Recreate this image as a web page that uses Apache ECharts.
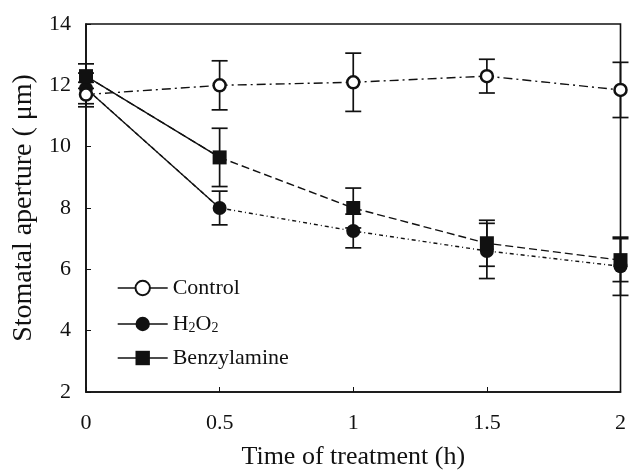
<!DOCTYPE html>
<html>
<head>
<meta charset="utf-8">
<script src="https://cdn.jsdelivr.net/npm/echarts@6/dist/echarts.min.js"></script>
<style>
html,body{margin:0;padding:0;background:#fff;}
#c{width:629px;height:475px;}
</style>
</head>
<body>
<div id="c"></div>
<script>
var times = [0, 0.5, 1, 1.5, 2];
var control = [11.7, 12.0, 12.1, 12.3, 11.85];
var controlErr = [0.4, 0.8, 0.95, 0.55, 0.9];
var h2o2 = [11.9, 8.0, 7.25, 6.6, 6.1];
var h2o2Err = [0.5, 0.55, 0.55, 0.9, 0.95];
var benzyl = [12.3, 9.65, 8.0, 6.85, 6.3];
var benzylErr = [0.4, 0.95, 0.65, 0.75, 0.7];
var xTicks = [0, 0.5, 1, 1.5, 2];
var yTicks = [2, 4, 6, 8, 10, 12, 14];

var FONT = '"Liberation Serif", "DejaVu Serif", serif';

function pts(vals) { return times.map(function (t, i) { return [t, vals[i]]; }); }
function errData(vals, errs) { return times.map(function (t, i) { return [t, vals[i] - errs[i], vals[i] + errs[i]]; }); }

function errSeries(vals, errs) {
  return {
    type: 'custom',
    z: 1,
    silent: true,
    data: errData(vals, errs),
    renderItem: function (params, api) {
      var x = api.value(0);
      var lo = api.coord([x, api.value(1)]);
      var hi = api.coord([x, api.value(2)]);
      var hw = 8;
      var st = { stroke: '#111', lineWidth: 1.7 };
      return {
        type: 'group',
        children: [
          { type: 'line', shape: { x1: lo[0], y1: lo[1], x2: hi[0], y2: hi[1] }, style: st },
          { type: 'line', shape: { x1: lo[0] - hw, y1: lo[1], x2: lo[0] + hw, y2: lo[1] }, style: st },
          { type: 'line', shape: { x1: hi[0] - hw, y1: hi[1], x2: hi[0] + hw, y2: hi[1] }, style: st }
        ]
      };
    }
  };
}

var chart = echarts.init(document.getElementById('c'), null, { renderer: 'canvas' });
chart.setOption({
  animation: false,
  backgroundColor: '#fff',
  grid: { left: 86, right: 7, top: 24, bottom: 81, show: true, borderColor: '#111', borderWidth: 1.6, backgroundColor: 'transparent' },
  xAxis: {
    type: 'value', min: xTicks[0], max: xTicks[xTicks.length - 1], interval: 0.5,
    name: 'Time of treatment (h)', nameLocation: 'middle', nameGap: 52,
    nameTextStyle: { fontFamily: FONT, fontSize: 26, color: '#111' },
    axisLine: { lineStyle: { color: '#111', width: 1.6 } },
    axisTick: { inside: true, length: 5, lineStyle: { color: '#111' } },
    axisLabel: { fontFamily: FONT, fontSize: 22, color: '#111', margin: 20 },
    splitLine: { show: false }
  },
  yAxis: {
    type: 'value', min: yTicks[0], max: yTicks[yTicks.length - 1], interval: 2,
    name: 'Stomatal aperture ( \u03bcm)', nameLocation: 'middle', nameGap: 47,
    nameTextStyle: { fontFamily: FONT, fontSize: 28, color: '#111' },
    axisLine: { lineStyle: { color: '#111', width: 1.6 } },
    axisTick: { inside: true, length: 5, lineStyle: { color: '#111' } },
    axisLabel: { fontFamily: FONT, fontSize: 22, color: '#111', margin: 15 },
    splitLine: { show: false }
  },
  legend: {
    orient: 'vertical', left: 112, top: 272, itemWidth: 50, itemHeight: 18, itemGap: 12,
    data: ['Control', 'H2O2', 'Benzylamine'],
    lineStyle: { type: 'solid', width: 1.4, color: '#111' },
    textStyle: {
      fontFamily: FONT, fontSize: 22, lineHeight: 22, color: '#111',
      rich: { sub: { fontFamily: FONT, fontSize: 14, lineHeight: 22, verticalAlign: 'bottom', padding: [10, 0, 0, 0], color: '#111' } }
    },
    formatter: function (n) { return n === 'H2O2' ? 'H{sub|2}O{sub|2}' : n; }
  },
  series: [
    errSeries(control, controlErr),
    errSeries(h2o2, h2o2Err),
    errSeries(benzyl, benzylErr),
    { type: 'line', silent: true, z: 2, data: pts(h2o2).slice(0, 2), symbol: 'none', lineStyle: { color: '#111', width: 1.4, type: 'solid' } },
    { type: 'line', silent: true, z: 2, data: pts(benzyl).slice(0, 2), symbol: 'none', lineStyle: { color: '#111', width: 1.3, type: 'solid' } },
    {
      name: 'H2O2', type: 'line', z: 3, data: pts(h2o2), symbol: 'circle', symbolSize: 14,
      itemStyle: { color: '#111' }, lineStyle: { color: '#111', width: 1.4, type: [4, 3, 1, 3] }
    },
    {
      name: 'Benzylamine', type: 'line', z: 4, data: pts(benzyl), symbol: 'rect', symbolSize: 14,
      itemStyle: { color: '#111' }, lineStyle: { color: '#111', width: 1.4, type: [8, 4] }
    },
    {
      name: 'Control', type: 'line', z: 5, data: pts(control), symbol: 'circle', symbolSize: 12,
      itemStyle: { color: '#fff', borderColor: '#111', borderWidth: 2.5 },
      lineStyle: { color: '#111', width: 1.4, type: [9, 4, 2, 4] }
    }
  ]
});
</script>
</body>
</html>
